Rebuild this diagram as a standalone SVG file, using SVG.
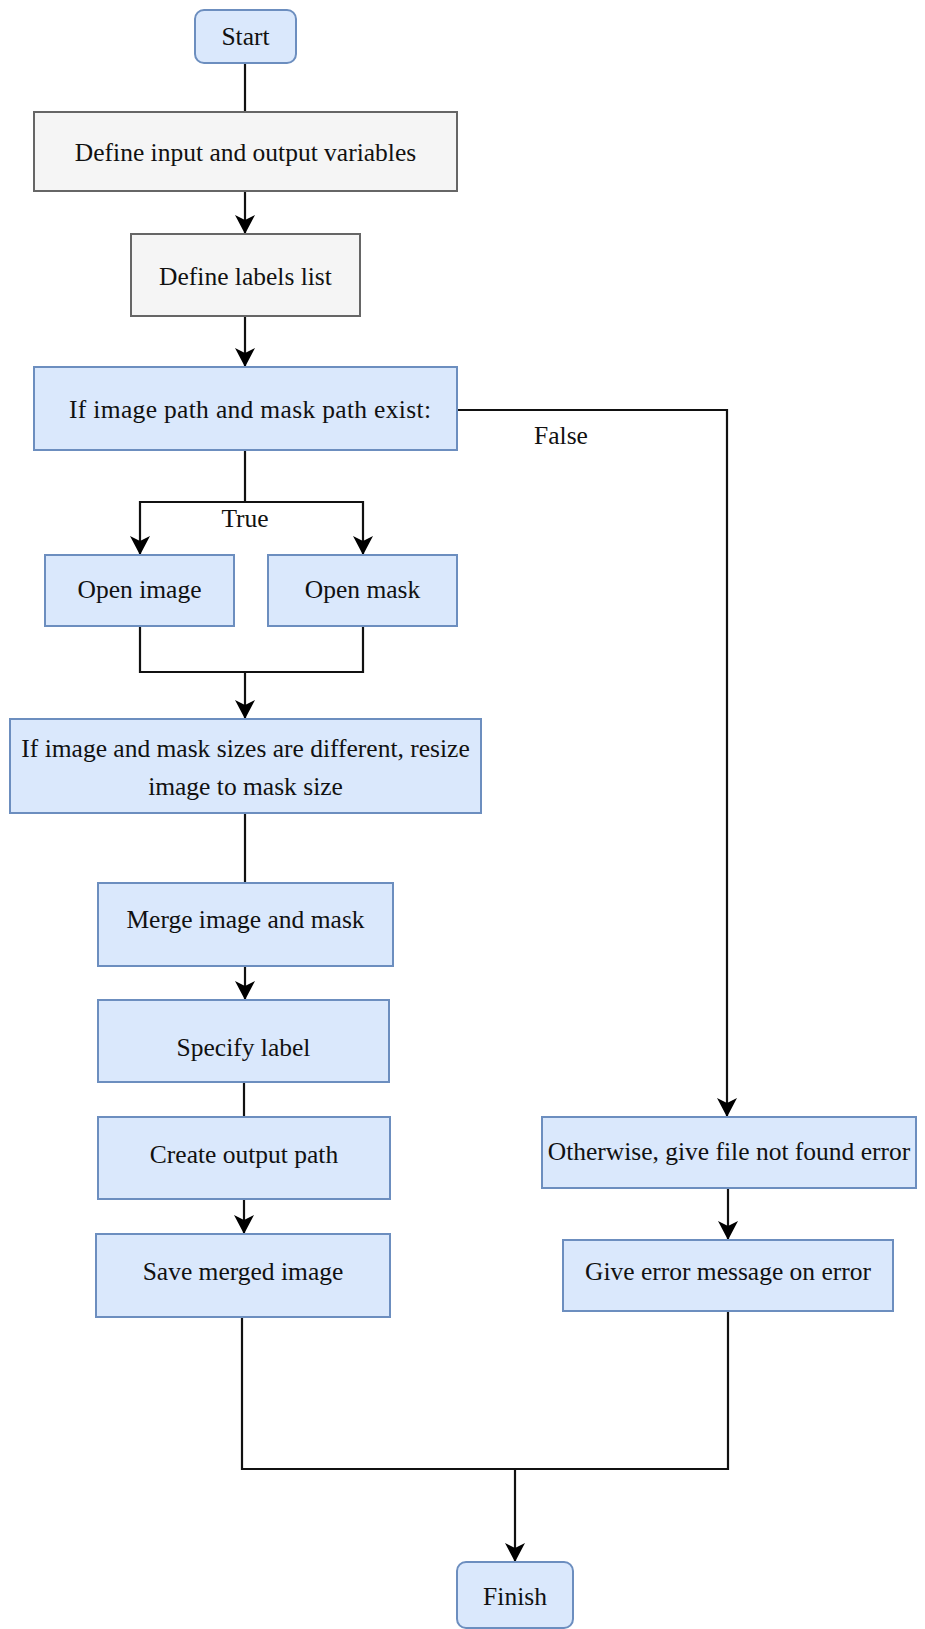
<svg xmlns="http://www.w3.org/2000/svg" width="925" height="1629" viewBox="0 0 925 1629">
<style>
.blue{fill:#dae8fc;stroke:#6c8ebf;stroke-width:2}
.gray{fill:#f5f5f5;stroke:#666666;stroke-width:2}
.t{font-family:"Liberation Serif","Times New Roman",serif;font-size:25.5px;fill:#111;text-anchor:middle}
.c{fill:none;stroke:#111;stroke-width:2.2}
.a{marker-end:url(#arr)}
</style>
<defs>
<marker id="arr" markerUnits="userSpaceOnUse" markerWidth="20" markerHeight="20" refX="19" refY="10" orient="auto" viewBox="0 0 20 20">
<path d="M0,0 L19,10 L0,20 L5,10 Z" fill="#000"/>
</marker>
</defs>
<rect width="925" height="1629" fill="#fff"/>
<g id="connectors">
<path class="c" d="M245,63 V112"/>
<path class="c a" d="M245,191 V234"/>
<path class="c a" d="M245,316 V367"/>
<path class="c" d="M245,450 V502"/>
<path class="c a" d="M245,502 H140 V555"/>
<path class="c a" d="M245,502 H363 V555"/>
<path class="c" d="M140,626 V672 H363 V626"/>
<path class="c a" d="M245,672 V719"/>
<path class="c" d="M245,813 V883"/>
<path class="c a" d="M245,966 V1000"/>
<path class="c" d="M244,1082 V1117"/>
<path class="c a" d="M244,1199 V1234"/>
<path class="c" d="M242,1317 V1469 H728 V1311"/>
<path class="c a" d="M515,1469 V1562"/>
<path class="c a" d="M457,410 H727 V1117"/>
<path class="c a" d="M728,1188 V1240"/>
<text class="t" x="245" y="527">True</text>
<text class="t" x="561" y="444">False</text>
</g>
<g id="start"><rect class="blue" x="195" y="10" width="101" height="53" rx="9"/><text class="t" x="245.5" y="45">Start</text></g>
<g id="define-io"><rect class="gray" x="34" y="112" width="423" height="79"/><text class="t" x="245.5" y="161">Define input and output variables</text></g>
<g id="define-labels"><rect class="gray" x="131" y="234" width="229" height="82"/><text class="t" x="245.5" y="285">Define labels list</text></g>
<g id="if-exist"><rect class="blue" x="34" y="367" width="423" height="83"/><text class="t" x="250" y="418" textLength="362" lengthAdjust="spacing">If image path and mask path exist:</text></g>
<g id="open-image"><rect class="blue" x="45" y="555" width="189" height="71"/><text class="t" x="139.5" y="598">Open image</text></g>
<g id="open-mask"><rect class="blue" x="268" y="555" width="189" height="71"/><text class="t" x="362.5" y="598">Open mask</text></g>
<g id="resize"><rect class="blue" x="10" y="719" width="471" height="94"/><text class="t" x="245.5" y="757">If image and mask sizes are different, resize</text><text class="t" x="245.5" y="795">image to mask size</text></g>
<g id="merge"><rect class="blue" x="98" y="883" width="295" height="83"/><text class="t" x="245.5" y="928">Merge image and mask</text></g>
<g id="specify"><rect class="blue" x="98" y="1000" width="291" height="82"/><text class="t" x="243.5" y="1056">Specify label</text></g>
<g id="create"><rect class="blue" x="98" y="1117" width="292" height="82"/><text class="t" x="244" y="1163">Create output path</text></g>
<g id="save"><rect class="blue" x="96" y="1234" width="294" height="83"/><text class="t" x="243" y="1280">Save merged image</text></g>
<g id="not-found"><rect class="blue" x="542" y="1117" width="374" height="71"/><text class="t" x="729" y="1160">Otherwise, give file not found error</text></g>
<g id="error-msg"><rect class="blue" x="563" y="1240" width="330" height="71"/><text class="t" x="728" y="1280">Give error message on error</text></g>
<g id="finish"><rect class="blue" x="457" y="1562" width="116" height="66" rx="9"/><text class="t" x="515" y="1605">Finish</text></g>
</svg>
